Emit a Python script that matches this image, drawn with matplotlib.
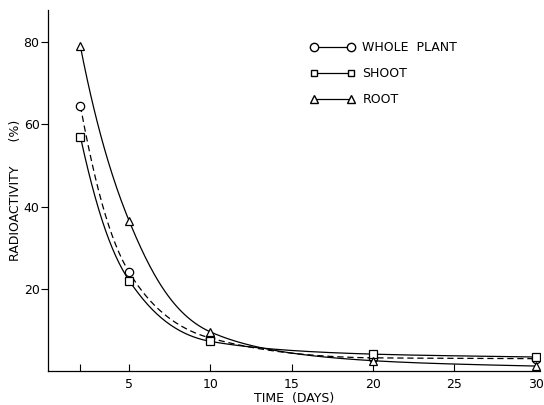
import numpy as np
import matplotlib
matplotlib.use('Agg')
import matplotlib.pyplot as plt
from matplotlib.lines import Line2D

# values
days = [2, 5, 10, 20, 30]
whole_plant = [64.5, 24.0, 8.0, 3.2, 3.0]
shoot = [57.0, 22.0, 7.2, 4.1, 3.4]
root = [79.0, 36.5, 9.5, 2.5, 1.2]

x_ticks = [2, 5, 10, 15, 20, 25, 30]
x_labels = ['', '5', '10', '15', '20', '25', '30']
y_ticks = [20, 40, 60, 80]


def smooth(x, y, xs):
    # monotone cubic hermite on log values, only to draw smooth lines through the points
    x = np.asarray(x, float)
    y = np.log(np.asarray(y, float))
    h = np.diff(x)
    d = np.diff(y) / h
    m = np.zeros_like(y)
    for k in range(1, len(x) - 1):
        if d[k - 1] * d[k] > 0:
            w1 = 2 * h[k] + h[k - 1]
            w2 = h[k] + 2 * h[k - 1]
            m[k] = (w1 + w2) / (w1 / d[k - 1] + w2 / d[k])
    m[0] = d[0]
    m[-1] = d[-1]
    idx = np.clip(np.searchsorted(x, xs) - 1, 0, len(x) - 2)
    t = (xs - x[idx]) / h[idx]
    h00 = 2 * t**3 - 3 * t**2 + 1
    h10 = t**3 - 2 * t**2 + t
    h01 = -2 * t**3 + 3 * t**2
    h11 = t**3 - t**2
    return np.exp(h00 * y[idx] + h10 * h[idx] * m[idx] + h01 * y[idx + 1] + h11 * h[idx] * m[idx + 1])


plt.rcParams['font.family'] = ['DejaVu Sans']
fig = plt.figure(figsize=(5.44, 4.05), dpi=100)
ax = fig.add_axes([0.088, 0.084, 0.904, 0.891])

xs = np.linspace(2, 30, 400)
mk = dict(markerfacecolor='white', markeredgecolor='black', markersize=6,
          markeredgewidth=0.9, linestyle='none')

ax.plot(xs, smooth(days, whole_plant, xs), color='black', lw=0.9, ls=(0, (5, 3)))
ax.plot(days, whole_plant, marker='o', **mk)
ax.plot(xs, smooth(days, shoot, xs), color='black', lw=0.9)
ax.plot(days, shoot, marker='s', **mk)
ax.plot(xs, smooth(days, root, xs), color='black', lw=0.9)
ax.plot(days, root, marker='^', **mk)

ax.set_xlim(0, 30.25)
ax.set_ylim(0, 87.8)
ax.spines['top'].set_visible(False)
ax.spines['right'].set_visible(False)
ax.spines['left'].set_linewidth(0.9)
ax.spines['bottom'].set_linewidth(0.9)

ax.set_xticks(x_ticks)
ax.set_xticklabels(x_labels)
ax.set_yticks(y_ticks)
ax.tick_params(axis='x', direction='in', length=5, pad=5, labelsize=9)
ax.tick_params(axis='y', direction='out', length=5, pad=1, labelsize=9)

ax.set_xlabel('TIME  (DAYS)', fontsize=9, labelpad=1)
ax.set_ylabel('RADIOACTIVITY      (%)', fontsize=9)
ax.yaxis.set_label_coords(-0.053, 0.5)

handles = [
    Line2D([], [], color='black', lw=0.9, marker='o', markerfacecolor='white', markersize=6),
    Line2D([], [], color='black', lw=0.9, marker='s', markerfacecolor='white', markersize=5),
    Line2D([], [], color='black', lw=0.9, marker='^', markerfacecolor='white', markersize=6),
]
ax.legend(handles, ['WHOLE  PLANT', 'SHOOT', 'ROOT'], loc='upper left',
          bbox_to_anchor=(0.51, 0.945), frameon=False, numpoints=2,
          handlelength=3.6, handletextpad=0.6, labelspacing=1.05, fontsize=9)

fig.savefig('out.png', dpi=100)
